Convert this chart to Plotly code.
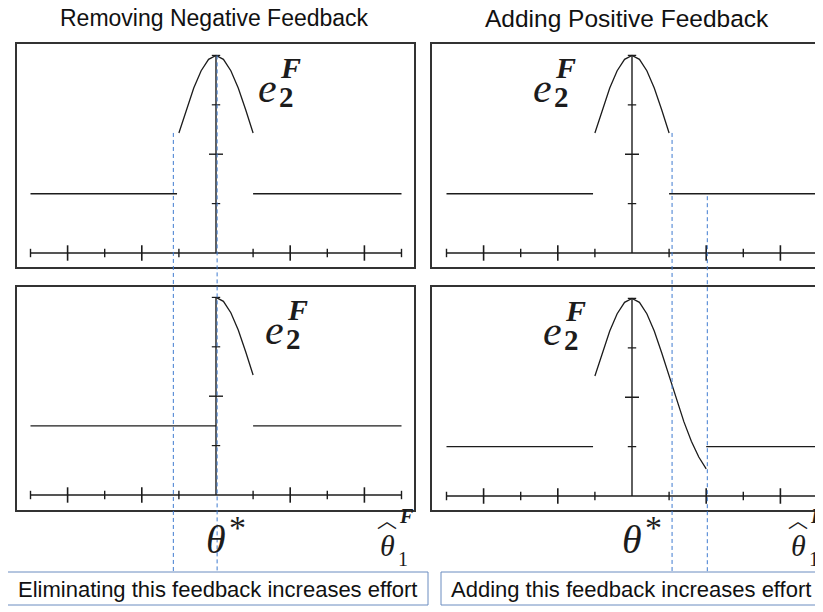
import plotly.graph_objects as go

W, H = 823, 612
OFF = 8  # page body margin of the html page

# ---------------- data ----------------
column_titles = ["Removing Negative Feedback", "Adding Positive Feedback"]
box_texts = ["Eliminating this feedback increases effort",
             "Adding this feedback increases effort"]

minor_x_ticks = [-5, -3, -1, 1, 3, 5]
major_x_ticks = [-4, -2, 2, 4]
minor_y_ticks = [1, 3, 4]
major_y_ticks = [2]
axis_x_span = [-5, 5]
axis_y_span = [0, 4]

# effort curve e2F
tl_curve_x = [-1.0, -0.8, -0.6, -0.4, -0.2, 0.0, 0.2, 0.4, 0.6, 0.8, 1.0]
tl_curve_y = [2.43, 2.90, 3.34, 3.69, 3.92, 4.00, 3.92, 3.69, 3.34, 2.90, 2.43]
tr_curve_x = [-1.0, -0.8, -0.6, -0.4, -0.2, 0.0, 0.2, 0.4, 0.6, 0.8, 1.0]
tr_curve_y = [2.43, 2.90, 3.34, 3.69, 3.92, 4.00, 3.92, 3.69, 3.34, 2.90, 2.43]
bl_curve_x = [0.0, 0.2, 0.4, 0.6, 0.8, 1.0]
bl_curve_y = [4.00, 3.92, 3.69, 3.34, 2.90, 2.43]
br_curve_x = [-1.0, -0.8, -0.6, -0.4, -0.2, 0.0, 0.2, 0.4, 0.6, 0.8, 1.0,
              1.2, 1.4, 1.6, 1.8, 2.0]
br_curve_y = [2.43, 2.90, 3.34, 3.69, 3.92, 4.00, 3.92, 3.69, 3.34, 2.90, 2.43,
              1.95, 1.50, 1.11, 0.79, 0.55]

# flat effort levels: (x_start, x_end) segments and their level
tl_flat_x = [(-5, -1.05), (1.0, 5)]
tl_flat_y = 1.2
tr_flat_x = [(-5, -1.05), (1.0, 5)]
tr_flat_y = 1.2
bl_flat_x = [(-5, 0.0), (1.0, 5)]
bl_flat_y = 1.4
br_flat_x = [(-5, -1.05), (2.0, 5)]
br_flat_y = 1.0

# dashed guide lines: (x, starting level in top panel)
left_guides = [(-1.15, 2.43), (0.03, 4.0)]
right_guides = [(1.08, 2.43), (2.03, 1.15)]

# ---------------- layout geometry ----------------
def px_x(p):
    return (p - OFF) / W

def px_y(p):
    return 1 - (p - OFF) / H

left_dom = [px_x(17), px_x(414)]
right_dom = [px_x(432), px_x(822.5)]
top_dom = [px_y(267), px_y(44)]
bot_dom = [px_y(510), px_y(287)]

left_rng = [(17 - 216) / 37.1, (414 - 216) / 37.1]
right_rng = [(432 - 632) / 37.1, (822.5 - 632) / 37.1]
top_rng = [(253 - 267) / 49.4, (253 - 44) / 49.4]
bl_rng = [(495 - 510) / 49.4, (495 - 287) / 49.4]
br_rng = [(496 - 510) / 49.4, (496 - 287) / 49.4]

ink = "#1c1c1c"
frame = "#333333"
blue = "#3f7bd0"
serif = "Liberation Serif, Times New Roman, serif"
sans = "Liberation Sans, Arial, sans-serif"

fig = go.Figure()

panels = [
    ("x", "y", tl_curve_x, tl_curve_y, tl_flat_x, tl_flat_y),
    ("x2", "y2", tr_curve_x, tr_curve_y, tr_flat_x, tr_flat_y),
    ("x3", "y3", bl_curve_x, bl_curve_y, bl_flat_x, bl_flat_y),
    ("x4", "y4", br_curve_x, br_curve_y, br_flat_x, br_flat_y),
]

for xa, ya, cx, cy, fx, fy in panels:
    fig.add_trace(go.Scatter(x=axis_x_span, y=[0, 0], mode="lines",
                             line=dict(color=ink, width=1.4), xaxis=xa, yaxis=ya,
                             hoverinfo="skip", showlegend=False))
    fig.add_trace(go.Scatter(x=[0, 0], y=axis_y_span, mode="lines",
                             line=dict(color=ink, width=1.4), xaxis=xa, yaxis=ya,
                             hoverinfo="skip", showlegend=False))
    fig.add_trace(go.Scatter(x=major_x_ticks, y=[0] * len(major_x_ticks), mode="markers",
                             marker=dict(symbol="line-ns", size=11,
                                         line=dict(color=ink, width=1.6)),
                             xaxis=xa, yaxis=ya, hoverinfo="skip", showlegend=False))
    fig.add_trace(go.Scatter(x=minor_x_ticks, y=[0] * len(minor_x_ticks), mode="markers",
                             marker=dict(symbol="line-ns", size=6,
                                         line=dict(color=ink, width=1.4)),
                             xaxis=xa, yaxis=ya, hoverinfo="skip", showlegend=False))
    fig.add_trace(go.Scatter(x=[0] * len(major_y_ticks), y=major_y_ticks, mode="markers",
                             marker=dict(symbol="line-ew", size=10,
                                         line=dict(color=ink, width=1.4)),
                             xaxis=xa, yaxis=ya, hoverinfo="skip", showlegend=False))
    fig.add_trace(go.Scatter(x=[0] * len(minor_y_ticks), y=minor_y_ticks, mode="markers",
                             marker=dict(symbol="line-ew", size=6,
                                         line=dict(color=ink, width=1.2)),
                             xaxis=xa, yaxis=ya, hoverinfo="skip", showlegend=False))
    sx, sy = [], []
    for a, b in fx:
        sx += [a, b, None]
        sy += [fy, fy, None]
    fig.add_trace(go.Scatter(x=sx, y=sy, mode="lines", line=dict(color=ink, width=1.4),
                             xaxis=xa, yaxis=ya, hoverinfo="skip", showlegend=False))
    fig.add_trace(go.Scatter(x=cx, y=cy, mode="lines", line=dict(color=ink, width=1.3),
                             xaxis=xa, yaxis=ya, hoverinfo="skip", showlegend=False))

common = dict(showgrid=False, zeroline=False, showticklabels=False, ticks="",
              showline=True, mirror=True, linecolor=frame, linewidth=1.5,
              fixedrange=True)

fig.update_layout(
    width=W, height=H, margin=dict(l=0, r=0, t=0, b=0),
    paper_bgcolor="white", plot_bgcolor="white", showlegend=False,
    xaxis=dict(domain=left_dom, range=left_rng, anchor="y", **common),
    yaxis=dict(domain=top_dom, range=top_rng, anchor="x", **common),
    xaxis2=dict(domain=right_dom, range=right_rng, anchor="y2", **common),
    yaxis2=dict(domain=top_dom, range=top_rng, anchor="x2", **common),
    xaxis3=dict(domain=left_dom, range=left_rng, anchor="y3", **common),
    yaxis3=dict(domain=bot_dom, range=bl_rng, anchor="x3", **common),
    xaxis4=dict(domain=right_dom, range=right_rng, anchor="y4", **common),
    yaxis4=dict(domain=bot_dom, range=br_rng, anchor="x4", **common),
)

def level_to_paper(v, rng, dom):
    return dom[0] + (v - rng[0]) / (rng[1] - rng[0]) * (dom[1] - dom[0])

guide_bottom = px_y(572)
shapes = []
for xref, guides in (("x", left_guides), ("x2", right_guides)):
    for gx, lvl in guides:
        shapes.append(dict(type="line", xref=xref, yref="paper",
                           x0=gx, x1=gx, y0=level_to_paper(lvl, top_rng, top_dom),
                           y1=guide_bottom,
                           line=dict(color=blue, width=1, dash="4px,3px"),
                           layer="above"))

box_rects = [(7, 428), (441, 820)]
for (a, b) in box_rects:
    shapes.append(dict(type="rect", xref="paper", yref="paper",
                       x0=px_x(a), x1=px_x(b), y0=px_y(605), y1=px_y(572),
                       line=dict(color="#6b8cc0", width=1), fillcolor="white",
                       layer="above"))
fig.update_layout(shapes=shapes)

anns = []

def ann(**kw):
    kw.setdefault("showarrow", False)
    kw.setdefault("xanchor", "center")
    kw.setdefault("yanchor", "middle")
    anns.append(kw)

for t, cx, fs in zip(column_titles, (214, 627), (23, 24.5)):
    ann(xref="paper", yref="paper", x=px_x(cx), y=px_y(18), text=t,
        font=dict(family=sans, size=fs, color="#111"))
for t, (a, b) in zip(box_texts, box_rects):
    ann(xref="paper", yref="paper", x=px_x((a + b) / 2), y=px_y(589), text=t,
        font=dict(family=sans, size=22, color="#111"))

def e2F(xref, yref, x, y):
    ann(xref=xref, yref=yref, x=x, y=y, text="<i>e</i>",
        font=dict(family=serif, size=42, color=ink))
    ann(xref=xref, yref=yref, x=x, y=y, text="<b>2</b>", xshift=19, yshift=-9,
        font=dict(family=serif, size=29, color=ink))
    ann(xref=xref, yref=yref, x=x, y=y, text="<b><i>F</i></b>", xshift=23, yshift=20,
        font=dict(family=serif, size=30, color=ink))

e2F("x", "y", 1.40, 3.35)
e2F("x2", "y2", -2.40, 3.35)
e2F("x3", "y3", 1.57, 3.35)
e2F("x4", "y4", -2.15, 3.35)

for xref, star_x, hat_x in (("x3", 0.0, 4.62), ("x4", 0.0, 4.48)):
    ann(xref=xref, yref="paper", x=star_x, y=px_y(539), text="<i>θ</i>",
        font=dict(family=serif, size=40, color=ink))
    ann(xref=xref, yref="paper", x=star_x, y=px_y(539), text="*", xshift=21, yshift=12,
        font=dict(family=serif, size=34, color=ink))
    ann(xref=xref, yref="paper", x=hat_x, y=px_y(545), text="<i>θ</i>",
        font=dict(family=serif, size=30, color=ink))
    ann(xref=xref, yref="paper", x=hat_x, y=px_y(545), text="︿", yshift=26,
        font=dict(family="Noto Sans CJK SC", size=20, color=ink))
    ann(xref=xref, yref="paper", x=hat_x, y=px_y(545), text="1", xshift=16, yshift=-14,
        font=dict(family=serif, size=20, color=ink))
    ann(xref=xref, yref="paper", x=hat_x, y=px_y(545), text="<b><i>F</i></b>",
        xshift=19, yshift=29, font=dict(family=serif, size=20, color=ink))

fig.update_layout(annotations=anns)
fig.write_html("out.html")
